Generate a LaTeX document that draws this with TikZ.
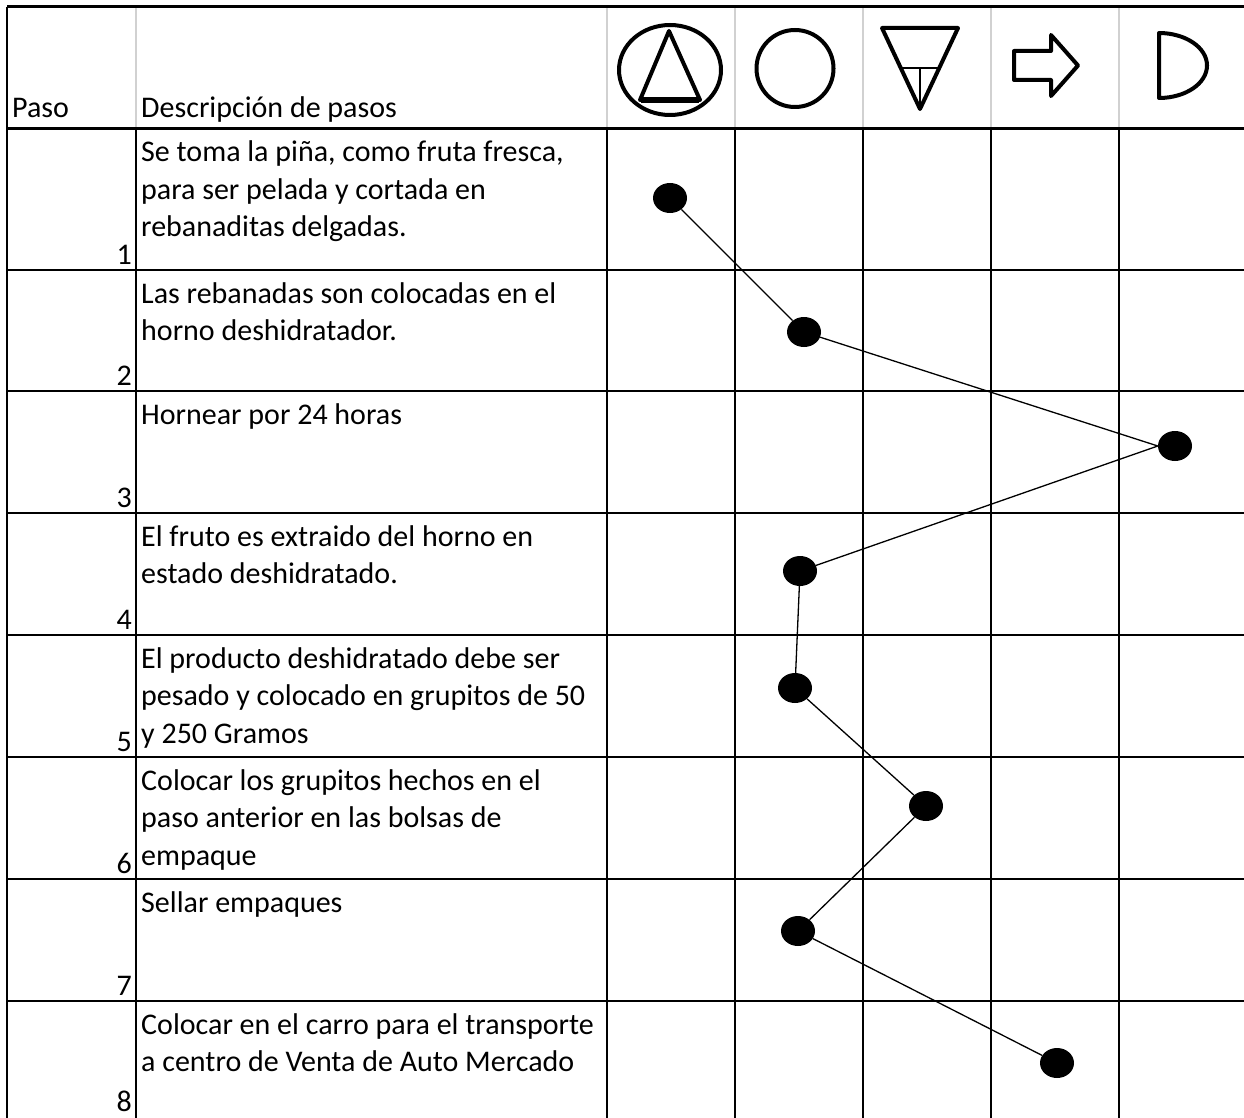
\documentclass[tikz,border=0pt]{standalone}
\usepackage{fontspec}
\setmainfont{Carlito}
\usetikzlibrary{shapes.geometric}

\begin{document}
\begin{tikzpicture}[x=1pt, y=-1pt,
        txt/.style={font=\fontsize{30}{37.5}\selectfont, inner sep=0pt},
        desc/.style={txt, anchor=base west, text width=480pt, align=flush left,
            execute at begin node={\spaceskip=0pt\xspaceskip=0pt}},
        num/.style={txt, anchor=base east},
        punto/.style={ellipse, fill=black, inner sep=0pt, minimum width=34pt, minimum height=30pt},
        linea/.style={line width=1.5pt},
        gruesa/.style={line width=3pt},
        gris/.style={line width=1.5pt, black!18},
        simbolo/.style={line width=4pt, line join=round}
    ]
    \useasboundingbox (0,0) rectangle (1244,1118);

    % header
    \draw[gris] (136,7) -- (136,129);
    \draw[gris] (607,7) -- (607,129);
    \draw[gris] (735,7) -- (735,129);
    \draw[gris] (863,7) -- (863,129);
    \draw[gris] (991,7) -- (991,129);
    \draw[gris] (1119,7) -- (1119,129);
    \draw[gruesa] (7,7) -- (1244,7);
    \draw[gruesa] (7,129) -- (1244,129);
    \draw[linea] (7,7) -- (7,1118);

    \node[txt, anchor=base west] (paso) at (12,118) {Paso};
    \node[txt, anchor=base west] (descr) at (141,118) {Descripción de pasos};

    % symbols
    \draw[simbolo] (670,70) ellipse [x radius=51, y radius=45];
    \draw[simbolo] (669,31) -- (700,100) -- (640,100) -- cycle;
    \draw[line width=6pt] (641,100) -- (699,100);
    \draw[simbolo] (795,68.5) ellipse [x radius=38.5, y radius=38.5];
    \draw[simbolo] (882,28) -- (958,28) -- (920,109) -- cycle;
    \draw[line width=1.2pt] (902,68) -- (938,68);
    \draw[line width=1.2pt] (920,68) -- (920,108);
    \draw[simbolo] (1014,51) -- (1051,51) -- (1051,35) -- (1078,65.5) -- (1051,96)
        -- (1051,80) -- (1014,80) -- cycle;
    \draw[simbolo, line cap=round] (1159,33) -- (1159,98)
        arc[start angle=90, end angle=-90, x radius=48, y radius=32.5] -- cycle;

    % grid
    \draw[linea] (136,129) -- (136,1118);
    \draw[linea] (607,129) -- (607,1118);
    \draw[linea] (735,129) -- (735,1118);
    \draw[linea] (863,129) -- (863,1118);
    \draw[linea] (991,129) -- (991,1118);
    \draw[linea] (1119,129) -- (1119,1118);
    \draw[linea] (7,270) -- (1244,270);
    \draw[linea] (7,391) -- (1244,391);
    \draw[linea] (7,513) -- (1244,513);
    \draw[linea] (7,635) -- (1244,635);
    \draw[linea] (7,757) -- (1244,757);
    \draw[linea] (7,879) -- (1244,879);
    \draw[linea] (7,1001) -- (1244,1001);

    % steps
    \node[num] (n1) at (132,264) {1};
    \node[num] (n2) at (132,385) {2};
    \node[num] (n3) at (132,507) {3};
    \node[num] (n4) at (132,629) {4};
    \node[num] (n5) at (132,751) {5};
    \node[num] (n6) at (132,873) {6};
    \node[num] (n7) at (132,995) {7};
    \node[num] (n8) at (132,1111) {8};

    \node[desc] (t1) at (141,162) {Se toma la piña, como fruta fresca,\\para ser pelada y cortada en\\rebanaditas delgadas.};
    \node[desc] (t2) at (141,303) {Las rebanadas son colocadas en el\\horno deshidratador.};
    \node[desc] (t3) at (141,424) {Hornear por 24 horas};
    \node[desc] (t4) at (141,546) {El fruto es extraido del horno en\\estado deshidratado.};
    \node[desc] (t5) at (141,668) {El producto deshidratado debe ser\\pesado y colocado en grupitos de 50\\y 250 Gramos};
    \node[desc] (t6) at (141,790) {Colocar los grupitos hechos en el\\paso anterior en las bolsas de\\empaque};
    \node[desc] (t7) at (141,912) {Sellar empaques};
    \node[desc] (t8) at (141,1034) {Colocar en el carro para el transporte\\a centro de Venta de Auto Mercado};

    % flow
    \node[punto] (d1) at (670,198) {};
    \node[punto] (d2) at (804,332) {};
    \node[punto] (d3) at (1175,446) {};
    \node[punto] (d4) at (800,571) {};
    \node[punto] (d5) at (795,688) {};
    \node[punto] (d6) at (926,806) {};
    \node[punto] (d7) at (798,931) {};
    \node[punto] (d8) at (1057,1063) {};

    \draw[line width=1.3pt] (d1) -- (d2) -- (d3.west) -- (d4) -- (d5) -- (d6) -- (d7) -- (d8);

\end{tikzpicture}
\end{document}
